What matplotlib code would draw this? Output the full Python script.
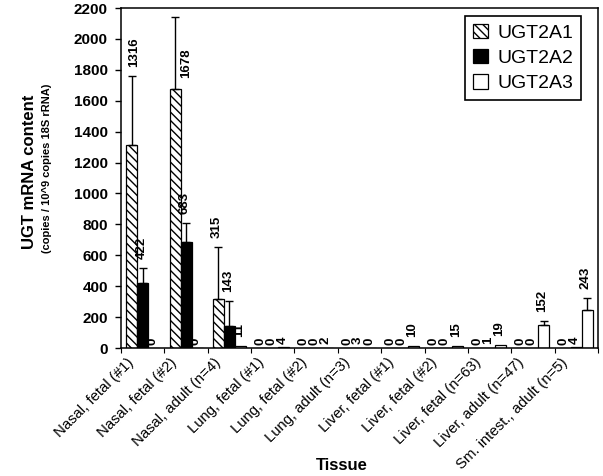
import matplotlib
matplotlib.use("Agg")
import matplotlib.pyplot as plt
import matplotlib.transforms as mtransforms
import numpy as np

plt.rcParams['font.family'] = ['Liberation Sans', 'DejaVu Sans']
plt.rcParams['hatch.linewidth'] = 1.0

categories = ["Nasal, fetal (#1)", "Nasal, fetal (#2)", "Nasal, adult (n=4)",
              "Lung, fetal (#1)", "Lung, fetal (#2)", "Lung, adult (n=3)",
              "Liver, fetal (#1)", "Liver, fetal (#2)", "Liver, fetal (n=63)",
              "Liver, adult (n=47)", "Sm. intest., adult (n=5)"]
series_names = ["UGT2A1", "UGT2A2", "UGT2A3"]
ugt2a1 = [1316, 1678, 315, 0, 0, 0, 0, 0, 0, 0, 0]
ugt2a2 = [422, 683, 143, 0, 0, 3, 0, 0, 1, 0, 4]
ugt2a3 = [0, 0, 11, 4, 2, 0, 10, 15, 19, 152, 243]
ugt2a1_err = [445, 462, 339, 0, 0, 0, 0, 0, 0, 0, 0]
ugt2a2_err = [96, 126, 163, 0, 0, 0, 0, 0, 0, 0, 0]
ugt2a3_err = [0, 0, 0, 0, 0, 0, 0, 0, 0, 22, 80]
yticks = list(range(0, 2201, 200))

values = [ugt2a1, ugt2a2, ugt2a3]
errors = [ugt2a1_err, ugt2a2_err, ugt2a3_err]
styles = [dict(facecolor='white', hatch='\\\\\\\\'),
          dict(facecolor='black'),
          dict(facecolor='white')]

fig = plt.figure(figsize=(6.03, 4.76), dpi=100)
ax = fig.add_axes([121/603, 1-348/476, 477/603, 340/476])

n = len(categories)
x = np.arange(n) + 0.5
w = 0.253
offsets = [-w, 0, w]

containers = []
for i in range(3):
    xs = x + offsets[i]
    bc = ax.bar(xs, values[i], width=w, edgecolor='black', linewidth=0.9,
                label=series_names[i], zorder=2, **styles[i])
    containers.append(bc)
    v = np.array(values[i], dtype=float)
    e = np.array(errors[i], dtype=float)
    m = e > 0
    if m.any():
        ax.errorbar(xs[m], v[m], yerr=[np.zeros(m.sum()), e[m]], fmt='none',
                    ecolor='black', elinewidth=1.0, capsize=3, capthick=1.0, zorder=3)

# label placement overrides: (series, category) -> (series slot for x, y value)
label_override = {(0, 1): (1, 1748)}

for i in range(3):
    for j in range(n):
        v = values[i][j]
        e = errors[i][j]
        txt = str(v)
        if (i, j) in label_override:
            slot, yv = label_override[(i, j)]
            ax.annotate(txt, xy=(x[j] + offsets[slot], yv), xytext=(0, 0),
                        textcoords='offset points', rotation=90, ha='center',
                        va='bottom', fontsize=9.5, fontweight='bold', zorder=4)
            continue
        gap = 6.5 if len(txt) > 1 else 2.5
        dx = 2 if (i == 0 and j == 0) else -1
        ax.annotate(txt, xy=(x[j] + offsets[i], v + e), xytext=(dx, gap),
                    textcoords='offset points', rotation=90, ha='center',
                    va='bottom', fontsize=9.5, fontweight='bold', zorder=4)

ax.set_xlim(0, n)
ax.set_ylim(0, 2200)
ax.set_yticks(yticks)
ax.set_yticklabels([str(t) for t in yticks], fontsize=11, fontweight='bold')
ax.tick_params(axis='y', direction='out', length=4.5, width=1.0, pad=5)

ax.set_xticks(x)
ax.set_xticklabels(categories, rotation=45, ha='right', va='top',
                   rotation_mode='anchor', fontsize=10.7)
ax.tick_params(axis='x', which='major', length=0, pad=6)
ax.set_xticks(np.arange(n + 1), minor=True)
ax.tick_params(axis='x', which='minor', direction='out', length=3.5, width=0.8)
shift = mtransforms.ScaledTranslation(-16/100, 1/100, fig.dpi_scale_trans)
for lab in ax.get_xticklabels():
    lab.set_transform(lab.get_transform() + shift)

for s in ax.spines.values():
    s.set_linewidth(1.1)
    s.set_color('black')

leg = ax.legend(handles=containers, loc='upper right',
                bbox_to_anchor=(581/603, 1-16/476), bbox_transform=fig.transFigure,
                fontsize=14, frameon=True, fancybox=False, framealpha=1,
                edgecolor='black', borderpad=0.4, labelspacing=0.38,
                handlelength=0.75, handleheight=0.75, handletextpad=0.5,
                borderaxespad=0)
leg.get_frame().set_linewidth(1.2)

fig.text(30/603, 1-172/476, "UGT mRNA content", rotation=90, ha='center',
         va='center', fontsize=12, fontweight='bold')
fig.text(47.5/603, 1-168/476, "(copies / 10^9 copies 18S rRNA)", rotation=90,
         ha='center', va='center', fontsize=8, fontweight='bold')
fig.text(341.7/603, 1-466/476, "Tissue", ha='center', va='center',
         fontsize=12, fontweight='bold')

fig.savefig("out.png", dpi=100)
